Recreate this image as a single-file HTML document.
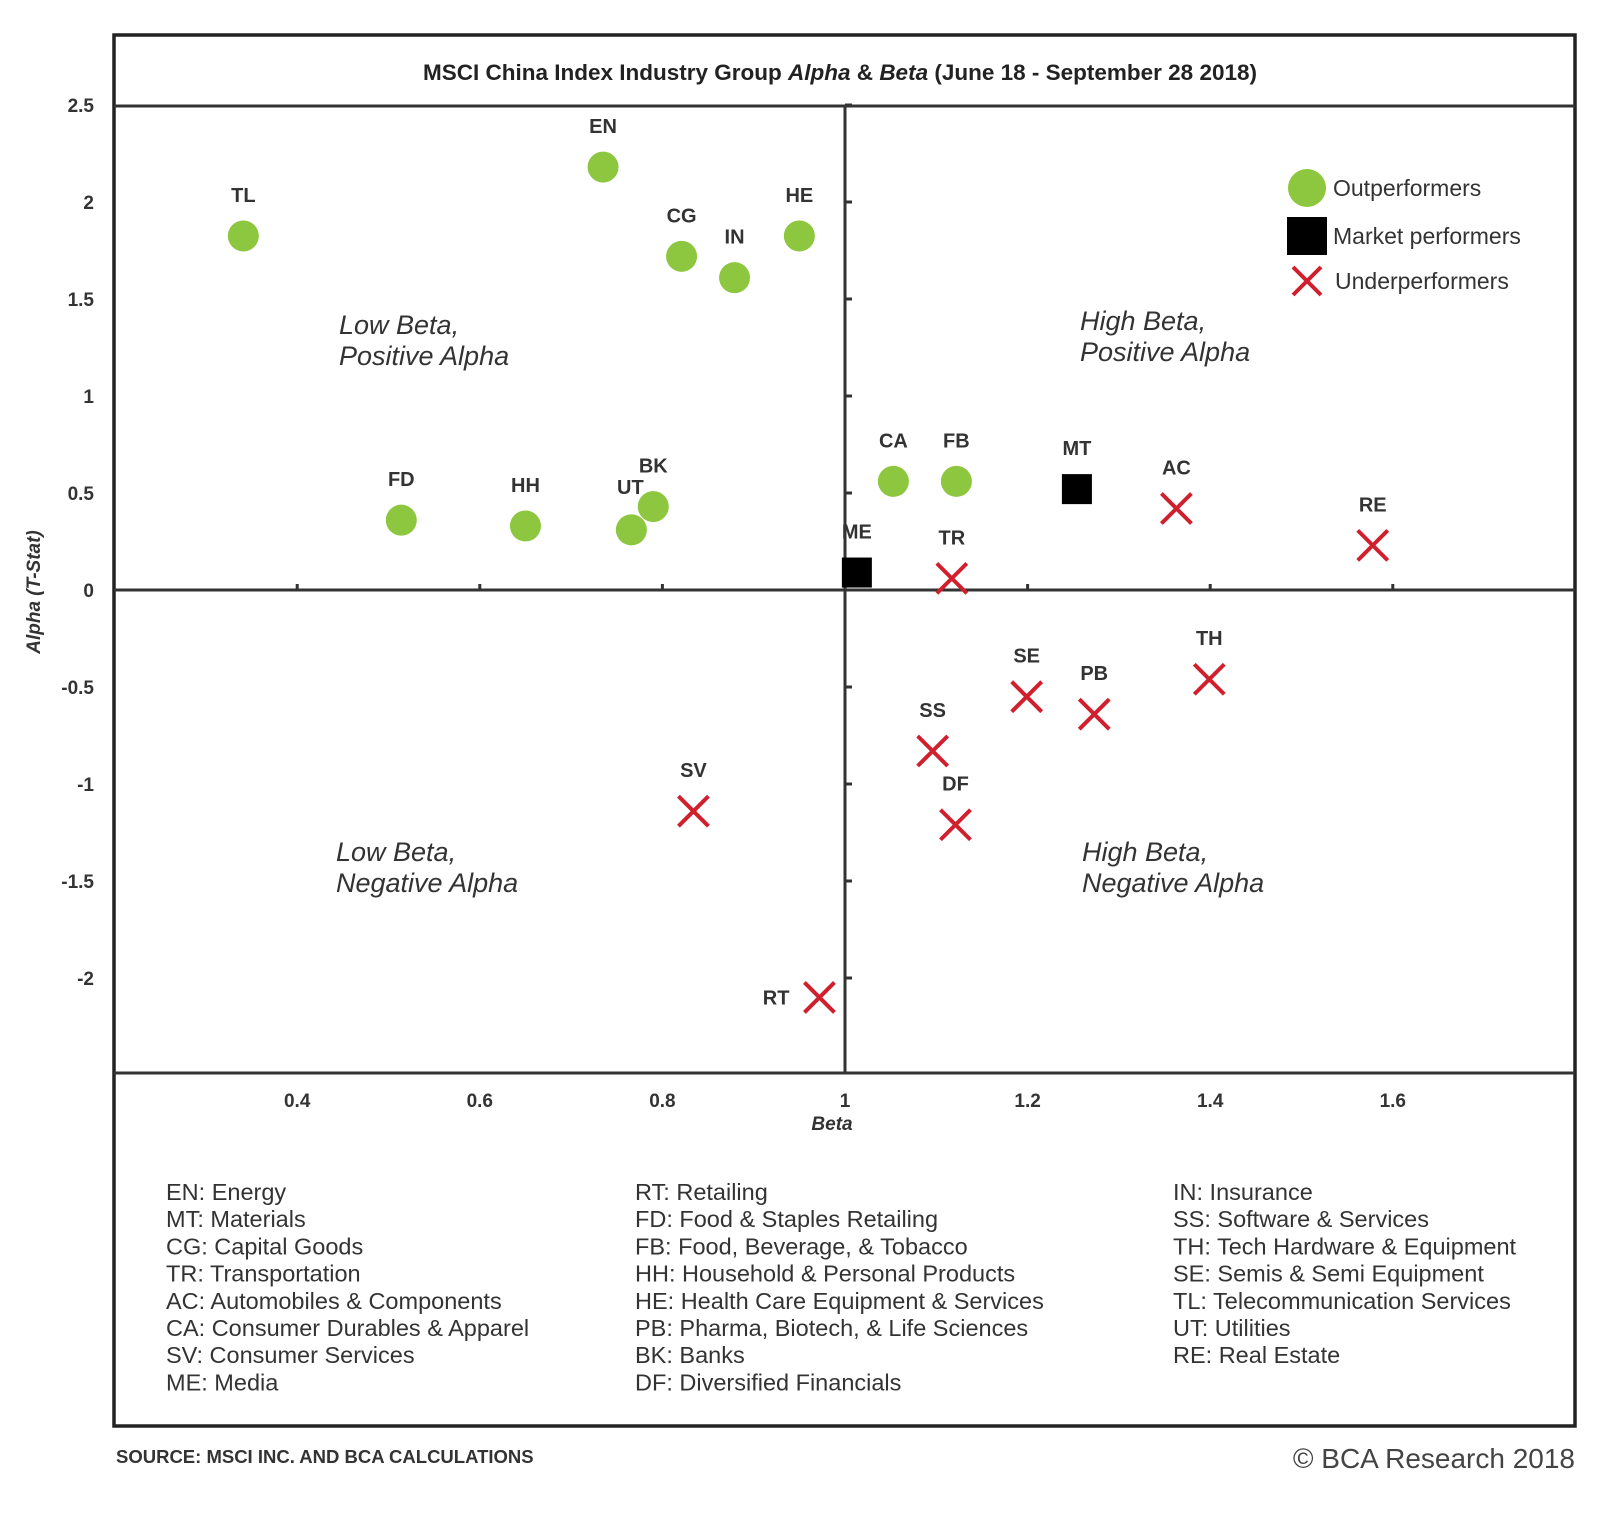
<!DOCTYPE html>
<html><head><meta charset="utf-8"><style>
html,body{margin:0;padding:0;background:#fff;}
svg{display:block;font-family:"Liberation Sans",Arial,sans-serif;}
</style></head><body>
<svg id="chart" width="1600" height="1524" viewBox="0 0 1600 1524">
<rect x="0" y="0" width="1600" height="1524" fill="#fff"/>
<rect x="114" y="35" width="1461" height="1391" fill="none" stroke="#222" stroke-width="3.5"/>
<line x1="114" y1="106" x2="1575" y2="106" stroke="#333" stroke-width="3"/>
<line x1="114" y1="1073" x2="1575" y2="1073" stroke="#333" stroke-width="3"/>
<text x="840" y="80" text-anchor="middle" font-size="22.5" font-weight="bold" fill="#222">MSCI China Index Industry Group <tspan font-style="italic">Alpha</tspan> &amp; <tspan font-style="italic">Beta</tspan> (June 18 - September 28 2018)</text>
<g id="axes"></g>
<g font-style="italic" font-size="27" fill="#333">
<text x="339" y="334"><tspan x="339">Low Beta,</tspan><tspan x="339" dy="31">Positive Alpha</tspan></text>
<text x="1080" y="330"><tspan x="1080">High Beta,</tspan><tspan x="1080" dy="31">Positive Alpha</tspan></text>
<text x="336" y="861"><tspan x="336">Low Beta,</tspan><tspan x="336" dy="31">Negative Alpha</tspan></text>
<text x="1082" y="861"><tspan x="1082">High Beta,</tspan><tspan x="1082" dy="31">Negative Alpha</tspan></text>
</g>
<g id="marks"></g>
<g>
<circle cx="1307" cy="188" r="19" fill="#8dc63f"/>
<text x="1333" y="196" font-size="23" fill="#333">Outperformers</text>
<rect x="1287" y="217" width="40" height="38" fill="#000"/>
<text x="1333" y="244" font-size="23" fill="#333">Market performers</text>
<path d="M1293 267 L1321 295 M1321 267 L1293 295" stroke="#d0202e" stroke-width="4"/>
<text x="1335" y="289" font-size="23" fill="#333">Underperformers</text>
</g>
<g font-size="23.5" fill="#333">
<text x="166" y="1200"><tspan x="166">EN: Energy</tspan><tspan x="166" dy="27.2">MT: Materials</tspan><tspan x="166" dy="27.2">CG: Capital Goods</tspan><tspan x="166" dy="27.2">TR: Transportation</tspan><tspan x="166" dy="27.2">AC: Automobiles &amp; Components</tspan><tspan x="166" dy="27.2">CA: Consumer Durables &amp; Apparel</tspan><tspan x="166" dy="27.2">SV: Consumer Services</tspan><tspan x="166" dy="27.2">ME: Media</tspan></text>
<text x="635" y="1200"><tspan x="635">RT: Retailing</tspan><tspan x="635" dy="27.2">FD: Food &amp; Staples Retailing</tspan><tspan x="635" dy="27.2">FB: Food, Beverage, &amp; Tobacco</tspan><tspan x="635" dy="27.2">HH: Household &amp; Personal Products</tspan><tspan x="635" dy="27.2">HE: Health Care Equipment &amp; Services</tspan><tspan x="635" dy="27.2">PB: Pharma, Biotech, &amp; Life Sciences</tspan><tspan x="635" dy="27.2">BK: Banks</tspan><tspan x="635" dy="27.2">DF: Diversified Financials</tspan></text>
<text x="1173" y="1200"><tspan x="1173">IN: Insurance</tspan><tspan x="1173" dy="27.2">SS: Software &amp; Services</tspan><tspan x="1173" dy="27.2">TH: Tech Hardware &amp; Equipment</tspan><tspan x="1173" dy="27.2">SE: Semis &amp; Semi Equipment</tspan><tspan x="1173" dy="27.2">TL: Telecommunication Services</tspan><tspan x="1173" dy="27.2">UT: Utilities</tspan><tspan x="1173" dy="27.2">RE: Real Estate</tspan></text>
</g>
<text x="116" y="1463" font-size="18.5" font-weight="bold" fill="#333">SOURCE: MSCI INC. AND BCA CALCULATIONS</text>
<text x="1575" y="1468" text-anchor="end" font-size="28" fill="#444">© BCA Research 2018</text>
</svg>
<script>
const codes = ["TL","EN","CG","IN","HE","FD","HH","UT","BK","CA","FB","MT","ME","AC","RE","TR","SE","PB","TH","SS","DF","SV","RT"];
const betaValues = [0.341,0.735,0.821,0.879,0.95,0.514,0.65,0.766,0.79,1.053,1.122,1.254,1.013,1.363,1.578,1.117,1.199,1.273,1.399,1.096,1.121,0.834,0.972];
const alphaValues = [1.825,2.18,1.72,1.61,1.825,0.36,0.33,0.31,0.43,0.56,0.56,0.52,0.09,0.42,0.23,0.06,-0.55,-0.64,-0.46,-0.83,-1.21,-1.14,-2.10];
const categories = ["out","out","out","out","out","out","out","out","out","out","out","mkt","mkt","under","under","under","under","under","under","under","under","under","under"];
const xTicks = [0.4,0.6,0.8,1,1.2,1.4,1.6];
const xTickLabels = ["0.4","0.6","0.8","1","1.2","1.4","1.6"];
const yTicks = [2.5,2,1.5,1,0.5,0,-0.5,-1,-1.5,-2];
const yTickLabels = ["2.5","2","1.5","1","0.5","0","-0.5","-1","-1.5","-2"];

const NS = "http://www.w3.org/2000/svg";
function xScale(b){ return 845 + (b - 1) * 913; }
function yScale(a){ return 590 - a * 194; }
function mk(tag, attrs, parent){ const e = document.createElementNS(NS, tag); for (const k in attrs) e.setAttribute(k, attrs[k]); parent.appendChild(e); return e; }

const axes = document.getElementById("axes");
let l = mk("line", {x1:114, y1:yScale(0), x2:1575, y2:yScale(0), stroke:"#333", "stroke-width":3}, axes);


l = mk("line", {x1:xScale(1), y1:106, x2:xScale(1), y2:1073, stroke:"#333", "stroke-width":3}, axes);


xTicks.forEach((t, i) => {
  const x = xScale(t);
  const tk = mk("line", {x1:x, y1:yScale(0) - 6, x2:x, y2:yScale(0), stroke:"#333", "stroke-width":3}, axes);
  
  
  const tx = mk("text", {x:x, y:1107, "text-anchor":"middle", "font-size":19, "font-weight":"bold", fill:"#333"}, axes);
  tx.textContent = xTickLabels[i];
  
  
});
yTicks.forEach((t, i) => {
  const y = yScale(t);
  const tk = mk("line", {x1:xScale(1), y1:y, x2:xScale(1) + 7, y2:y, stroke:"#333", "stroke-width":3}, axes);
  
  
  const tx = mk("text", {x:94, y:y + 7, "text-anchor":"end", "font-size":19, "font-weight":"bold", fill:"#333"}, axes);
  tx.textContent = yTickLabels[i];
  
  
});
let xt = mk("text", {x:832, y:1130, "text-anchor":"middle", "font-size":19, "font-weight":"bold", "font-style":"italic", fill:"#333"}, axes);
xt.textContent = "Beta";


let yt = mk("text", {x:0, y:0, "text-anchor":"middle", "font-size":19, "font-weight":"bold", "font-style":"italic", fill:"#333", transform:"translate(40,592) rotate(-90)"}, axes);
yt.textContent = "Alpha (T-Stat)";



const marks = document.getElementById("marks");
codes.forEach((c, i) => {
  const x = xScale(betaValues[i]), y = yScale(alphaValues[i]);
  let m;
  if (categories[i] === "out") {
    m = mk("circle", {cx:x, cy:y, r:15.5, fill:"#8dc63f"}, marks);
  } else if (categories[i] === "mkt") {
    m = mk("rect", {x:x - 15, y:y - 15, width:30, height:30, fill:"#000"}, marks);
  } else {
    m = mk("path", {d:`M${x-15} ${y-15} L${x+15} ${y+15} M${x+15} ${y-15} L${x-15} ${y+15}`, stroke:"#d0202e", "stroke-width":4, fill:"none"}, marks);
  }
  
  
  let lx = x, ly = y - 34, anchor = "middle";
  if (c === "RT") { lx = x - 30; ly = y + 7; anchor = "end"; }
  if (c === "UT") { lx = x - 1; ly = y - 36; }
  const t = mk("text", {x:lx, y:ly, "text-anchor":anchor, "font-size":20, "font-weight":"bold", fill:"#333"}, marks);
  t.textContent = c;
  
  
});
</script>
</body></html>
